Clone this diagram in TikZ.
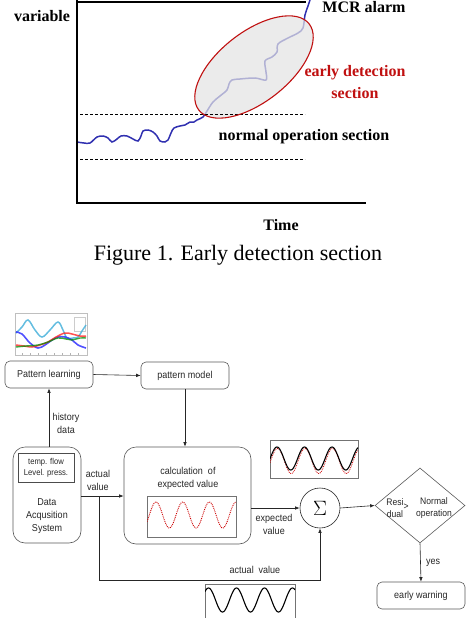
\documentclass[tikz,border=0pt]{standalone}
\usepackage{fontspec}
\setmainfont{Liberation Serif}
\newfontfamily\gul[FakeStretch=0.9]{Liberation Sans}
\usetikzlibrary{arrows.meta,shapes.geometric}
\definecolor{curveblue}{RGB}{48,48,176}
\definecolor{alarmred}{RGB}{192,16,16}
\begin{document}
\begin{tikzpicture}[x=1pt,y=1pt,
  axisline/.style={line width=1.6pt, black},
  thr/.style={line width=0.8pt, dash pattern=on 3pt off 2pt},
  biglbl/.style={font=\bfseries\fontsize{16}{18}\selectfont, inner sep=0},
  rbox/.style={draw=black!65, rounded corners=5pt, line width=0.6pt, minimum width=88pt, minimum height=27pt, inner sep=0, font=\gul\fontsize{10}{12}\selectfont, text=black!85},
  bigbox/.style={draw=black!65, rounded corners=12pt, line width=0.6pt, inner sep=0},
  txt/.style={font=\gul\fontsize{10}{13}\selectfont, text=black!85, align=center, inner sep=0},
  con/.style={draw=black!85, line width=0.6pt},
  arr/.style={con, -{Latex[length=4.5pt,width=3.5pt]}},
  imgframe/.style={draw=black!55, line width=0.6pt},
]
\useasboundingbox (0,0) rectangle (470,-618);

% ---------------- Figure 1 ----------------
\draw[curveblue, line width=1.5pt, smooth, tension=0.55] plot coordinates {
 (77,-142) (84,-143) (90,-143) (97,-137) (103,-136) (108,-138) (112,-142)
 (117,-139) (121,-136) (127,-136) (133,-139) (138,-141) (141,-136) (143,-131)
 (148,-130) (153,-132) (157,-136) (160,-141) (165,-142) (168,-140) (171,-133)
 (174,-128) (180,-126) (185,-125) (190,-122) (194,-122) (197,-120) (203,-117)
 (207,-111) (213,-102) (220,-96) (227,-90) (229,-84) (232,-80) (240,-79)
 (255,-78) (266,-80) (266,-72) (265,-61) (272,-57) (277,-52) (278,-44)
 (288,-38) (298,-33) (303,-28) (305,-15) (308,-6) (310,0)};
\fill[gray!22, opacity=0.72, rotate around={38:(254,-67)}] (254,-67) ellipse [x radius=70pt, y radius=35pt];
\coordinate (d1a) at (80,-114); \coordinate (d1b) at (305,-114);
\coordinate (d2a) at (80,-159); \coordinate (d2b) at (305,-159);
\draw[thr] (d1a) -- (d1b);
\draw[thr] (d2a) -- (d2b);
\draw[alarmred, line width=1.1pt, rotate around={38:(254,-67)}] (254,-67) ellipse [x radius=70pt, y radius=35pt];
\coordinate (ytop) at (77,0); \coordinate (orig) at (77,-203); \coordinate (xend) at (366,-203);
\coordinate (mcrA) at (77,-2); \coordinate (mcrB) at (306,-2);
\draw[axisline] (ytop) -- (orig) -- (xend);
\draw[axisline] (mcrA) -- (mcrB);
\node[biglbl] (var) at (42,-16) {variable};
\node[biglbl] (mcr) at (364,-7) {MCR alarm};
\node[biglbl, text=alarmred, align=center, font=\bfseries\fontsize{16}{22}\selectfont] (eds) at (355,-82) {early detection\\section};
\node[biglbl] (nos) at (304,-137) {normal operation section};
\node[biglbl] (time) at (281,-225) {Time};
\node[inner sep=0, font=\fontsize{22}{26}\selectfont] (cap) at (238,-255) {Figure 1. Early detection section};

% ---------------- Flow diagram ----------------
% thumbnail chart
\draw[black!25, line width=0.4pt] (15,-313) rectangle (87,-355);
\draw[black!20, line width=0.4pt] (74,-317) rectangle (85,-331);
\foreach \tx in {22,30,38,46,54,62,70,78} \draw[black!30, line width=0.3pt] (\tx,-355) -- (\tx,-353);
\begin{scope}
\clip (15,-313) rectangle (87,-355);
\draw[cyan!70!teal!80, line width=1.5pt, opacity=0.85, smooth, tension=0.6] plot coordinates {(16,-333) (22,-327) (28,-320) (35,-330) (42,-337) (50,-330) (58,-322) (63,-330) (67,-338) (73,-338) (78,-337) (82,-331) (86,-325)};
\draw[blue!80, line width=1.6pt, opacity=0.85, smooth, tension=0.6] plot coordinates {(16,-332) (22,-334) (30,-343) (38,-348) (45,-345) (52,-340) (58,-337) (65,-337) (72,-340) (78,-345) (86,-348)};
\draw[red!85, line width=1.5pt, opacity=0.8, smooth, tension=0.6] plot coordinates {(16,-345) (24,-346) (32,-347) (40,-345) (48,-342) (56,-337) (65,-333) (72,-334) (80,-336) (86,-336)};
\draw[green!55!black, line width=1.4pt, opacity=0.75, smooth, tension=0.6] plot coordinates {(16,-347) (26,-346) (38,-345) (48,-342) (58,-338) (66,-339) (72,-340) (80,-338) (86,-338)};
\end{scope}

\node[rbox] (pl) at (49,-374.5) {Pattern learning};
\node[rbox] (pm) at (185,-375.5) {pattern model};
\node[bigbox, minimum width=68pt, minimum height=96pt] (das) at (47,-495) {};
\node[draw=black!70, line width=0.6pt, minimum width=56pt, minimum height=29pt, inner sep=0, align=center, font=\gul\fontsize{8.5}{11}\selectfont, text=black!85] (sens) at (46,-467.5) {temp. flow\\Level. press.};
\node[txt] (dastxt) at (47,-516) {Data\\Acqusition\\System};
\node[bigbox, minimum width=127pt, minimum height=97pt] (calc) at (187.5,-495.5) {};
\node[txt] (calctxt) at (188,-478.5) {calculation\ \ of\\expected value};
\node[draw=black!85, circle, minimum size=40pt, inner sep=0, line width=0.6pt, font=\fontsize{22}{22}\selectfont] (sig) at (320,-508) {$\Sigma$};
\node[draw=black!65, diamond, minimum width=90pt, minimum height=75pt, inner sep=0, line width=0.6pt] (dia) at (420,-505.5) {};
\node[txt, font=\gul\fontsize{9.5}{11.5}\selectfont] (resi) at (395,-508) {Resi\\dual};
\node[txt, font=\gul\fontsize{9.5}{11.5}\selectfont] (gt) at (406,-507) {>};
\node[txt, font=\gul\fontsize{9.5}{11.5}\selectfont] (normop) at (434,-508) {Normal\\operation};
\node[rbox] (ew) at (421,-595.5) {early warning};

% inner sine in calc box
\draw[imgframe] (147,-496) rectangle (236,-537);
\begin{scope}
\clip (147,-496) rectangle (236,-537);
\draw[red!80!black, line width=0.9pt, densely dotted, domain=147:236, samples=120] plot (\x, {-515+13*cos((\x-156)/26.7*360)});
\end{scope}

% sine image above sigma
\draw[imgframe] (270,-440) rectangle (358,-478);
\begin{scope}
\clip (270,-440) rectangle (358,-478);
\draw[red!80!black, line width=0.8pt, densely dotted, domain=270:358, samples=120] plot (\x, {-461+12.5*cos((\x-277.5)/27.5*360)});
\draw[black, line width=1.1pt, domain=270:358, samples=120] plot (\x, {-458.5+11.5*cos((\x-277)/27.5*360)});
\end{scope}

% actual value sine image (bottom)
\draw[black!55, line width=0.6pt] (205,-622) -- (205,-584) -- (295,-584) -- (295,-622);
\begin{scope}
\clip (205,-584) rectangle (295,-622);
\draw[black, line width=1.1pt, domain=205:295, samples=120] plot (\x, {-600+12*cos((\x-236.5)/28*360)});
\end{scope}

% connectors
\draw[arr] (pl.east) -- (pm.west);
\draw[arr] (pm.south) -- (pm.south |- calc.north);
\draw[arr] (das.north -| pl.south) -- (pl.south);
\coordinate (split) at (99,-496);
\coordinate (low1) at (99,-580);
\coordinate (low2) at (320,-580);
\draw[arr] (das.east |- split) -- (calc.west |- split);
\draw[arr] (split) -- (low1) -- (low2) -- (sig.south);
\draw[arr] (calc.east |- sig.west) -- (sig.west);
\draw[arr] (sig.east) -- (dia.west);
\draw[arr] (dia.south) -- (ew.north);

% connector labels
\node[txt] (hist) at (66,-423) {history\\data};
\node[txt] (av1) at (98,-480) {actual\\value};
\node[txt] (ev) at (274,-524.5) {expected\\value};
\node[txt] (av2) at (255,-570) {actual\ \ value};
\node[txt] (yes) at (433,-563) {yes};
\end{tikzpicture}
\end{document}
